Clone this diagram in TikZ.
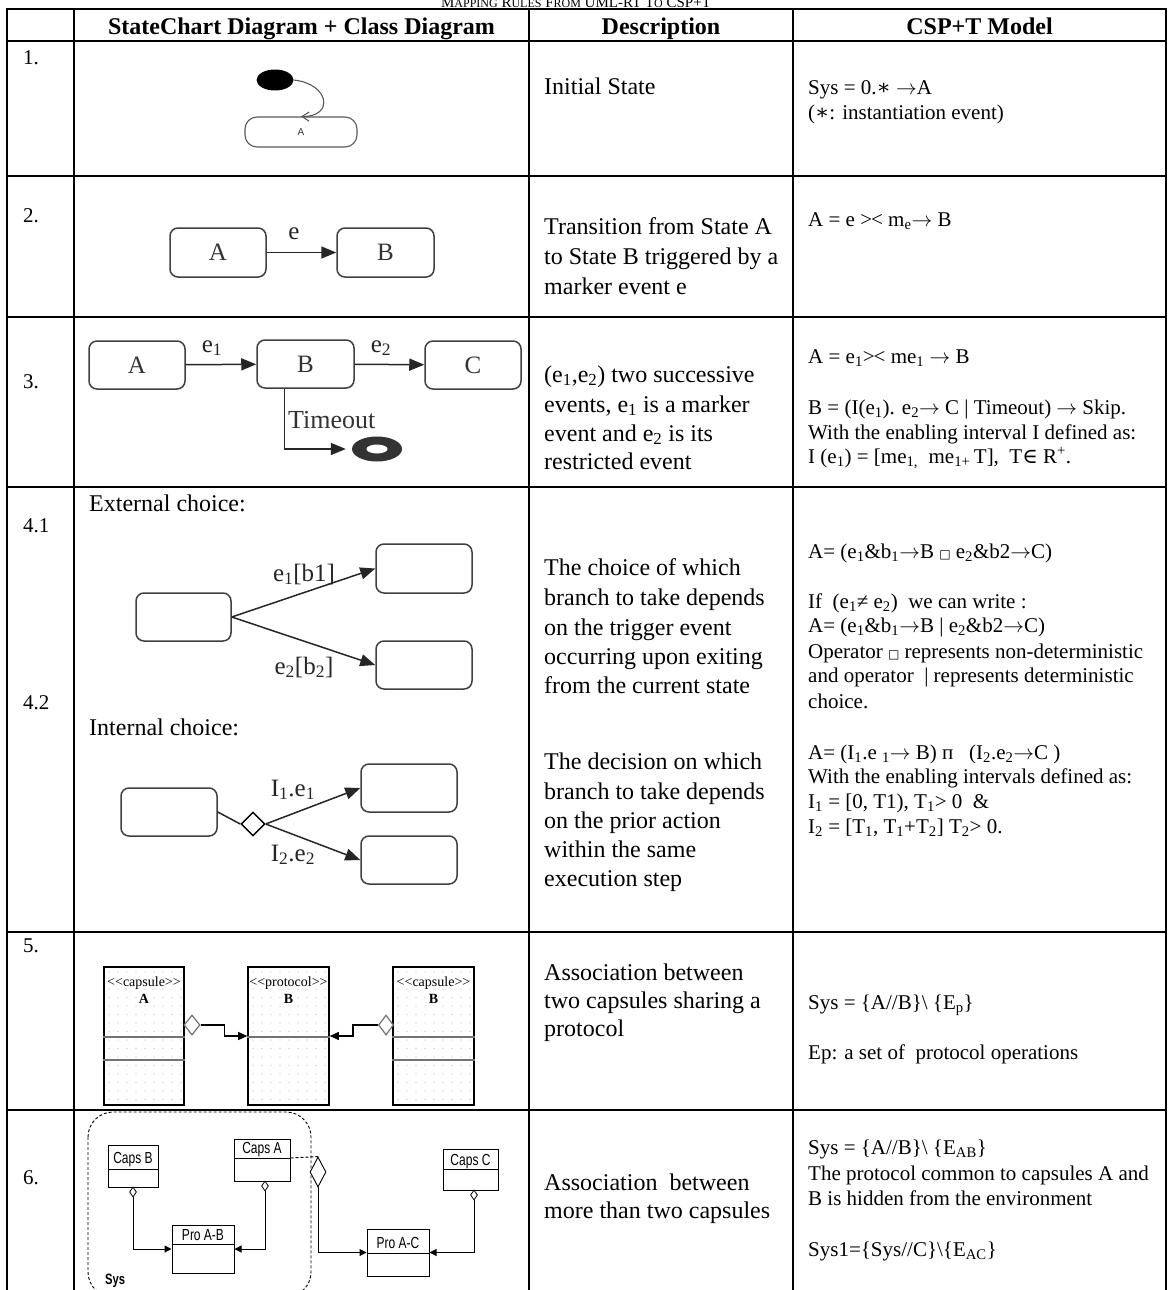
\documentclass[tikz,border=0pt]{standalone}
\usepackage{fontspec}
\setmainfont{Liberation Serif}
\newfontfamily\sansf{Liberation Sans}
\newfontfamily\symf{DejaVu Serif}
\usetikzlibrary{arrows.meta,shapes.geometric}
\newcommand\fs[1]{\fontsize{#1}{#1}\selectfont}
\newcommand\sbs[1]{\textsubscript{#1}}
\newcommand\sps[1]{\textsuperscript{#1}}
\newcommand\bx{{\symf\fontsize{12}{12}\selectfont □}}
\newcommand\gtlt{>\kern-1pt<}
\newcommand\sast{{\symf ∗}}
\newcommand\ra{\ensuremath{\rightarrow}}
\tikzset{
  tbl/.style={line width=2.4pt, line cap=rect},
  rowlbl/.style={anchor=base west, inner sep=0pt, font=\fs{21}},
  desc/.style={anchor=base west, inner sep=0pt, font=\fs{24}},
  csp/.style={anchor=base west, inner sep=0pt, font=\fs{21}},
  hdr/.style={anchor=base, inner sep=0pt, font=\fs{24}\bfseries},
  stbox/.style={draw=black!75, line width=1.5pt, rounded corners=8pt, inner sep=0pt, font=\fs{25}, text=black!80},
  trans/.style={draw=black!85, line width=1.5pt, -{Triangle[length=15pt,width=12pt]}},
  evlbl/.style={anchor=base, inner sep=0pt, font=\fs{25}, text=black!85},
  capsbox/.style={draw=black, line width=1.6pt},
  capsep/.style={draw=black!55, line width=2.2pt},
  capstxt/.style={anchor=base, inner sep=0pt, font=\fs{14}},
  aggr/.style={diamond, draw=black!55, fill=white, line width=1.2pt, inner sep=0pt},
  conn5/.style={draw=black, line width=1.4pt, -{Triangle[length=9pt,width=8pt]}},
  umlbox/.style={draw=black, line width=1pt, inner sep=0pt},
  umltxt/.style={anchor=base, inner sep=0pt, font=\sansf\fs{16}},
  smalldia/.style={diamond, draw=black, fill=white, line width=0.8pt, inner sep=0pt, minimum width=7pt, minimum height=10pt},
  conn6/.style={draw=black, line width=1pt, -{Triangle[length=7pt,width=7pt]}},
}
\newcommand\cond[1]{\scalebox{0.75}[1]{#1}}
\begin{document}
\begin{tikzpicture}[x=1pt,y=-1pt]
\useasboundingbox (0,0) rectangle (1168,1290);
\fill[white] (0,0) rectangle (1168,1290);
% title
\node[anchor=base, inner sep=0pt, font=\fs{15}] (title) at (576,7.5) {M{\fs{12}APPING} R{\fs{12}ULES} F{\fs{12}ROM} UML-RT T{\fs{12}O} CSP+T};
% table grid
\foreach \yy in {9,41,176,317,487,932,1110} \draw[tbl] (7,\yy) -- (1166,\yy);
\foreach \xx in {7,74,529,793,1166} \draw[tbl] (\xx,9) -- (\xx,1295);
% headers
\node[hdr] (h1) at (301.5,35) {StateChart Diagram + Class Diagram};
\node[hdr] (h2) at (661,35) {Description};
\node[hdr] (h3) at (979.5,35) {CSP+T Model};
% row labels
\node[rowlbl] (l1) at (23,64) {1.};
\node[rowlbl] (l2) at (23,222) {2.};
\node[rowlbl] (l3) at (23,388) {3.};
\node[rowlbl] (l41) at (23,532) {4.1};
\node[rowlbl] (l42) at (23,709) {4.2};
\node[rowlbl] (l5) at (23,952) {5.};
\node[rowlbl] (l6) at (23,1184) {6.};

% ---------- row 1 ----------
\node[ellipse, fill=black, minimum width=37pt, minimum height=21pt, inner sep=0pt] (init) at (275,80) {};
\node[draw=black!65, line width=1.1pt, rounded corners=12pt, minimum width=112pt, minimum height=30pt, inner sep=0pt, font=\sansf\fs{10}, text=black!80] (A1) at (301,132) {A};
\draw[black!65, line width=1.1pt, -{Straight Barb[length=7pt,width=9pt]}] (init.east) .. controls (330,84) and (334,117) .. (A1.north);
\node[desc] (d1) at (544,95) {Initial State};
\node[csp] (c1a) at (808,94) {Sys = 0.\sast{} \ra A};
\node[csp] (c1b) at (808,119) {(\sast: instantiation event)};

% ---------- row 2 ----------
\node[stbox, minimum width=96pt, minimum height=49pt] (A2) at (218,252.5) {A};
\node[stbox, minimum width=97pt, minimum height=49pt] (B2) at (385.5,252.5) {B};
\draw[trans] (A2) -- (B2);
\node[evlbl] (e2l) at (294,239) {e};
\node[desc] (d2a) at (544,234) {Transition from State A};
\node[desc] (d2b) at (544,264) {to State B triggered by a};
\node[desc] (d2c) at (544,294) {marker event e};
\node[csp] (c2a) at (808,226) {A = e \gtlt{} m\sbs{e}\ra{} B};

% ---------- row 3 ----------
\node[stbox, minimum width=96pt, minimum height=48pt] (A3) at (137,365) {A};
\node[stbox, minimum width=97pt, minimum height=48pt] (B3) at (305.5,364) {B};
\node[stbox, minimum width=96pt, minimum height=48pt] (C3) at (473,365) {C};
\draw[trans] (A3) -- (B3);
\draw[trans] (B3) -- (C3);
\node[evlbl] (e31) at (212,352) {e\sbs{1}};
\node[evlbl] (e32) at (381,352) {e\sbs{2}};
\node[ellipse, fill=black!80, minimum width=50pt, minimum height=25pt, inner sep=0pt] (fin) at (377,449) {};
\node[ellipse, fill=white, minimum width=21pt, minimum height=9pt, inner sep=0pt] (finin) at (fin.center) {};
\coordinate (tB) at ([xshift=28pt]B3.south west);
\draw[trans, shorten >=6pt] (tB) |- (fin.west);
\node[anchor=base west, inner sep=0pt, font=\fs{26}, text=black!80] (tmo) at (288,428) {Timeout};
\node[desc] (d3a) at (544,382) {(e\sbs{1},e\sbs{2}) two successive};
\node[desc] (d3b) at (544,412) {events, e\sbs{1} is a marker};
\node[desc] (d3c) at (544,441) {event and e\sbs{2} is its};
\node[desc] (d3d) at (544,469) {restricted event};
\node[csp] (c3a) at (808,363) {A = e\sbs{1}\gtlt{} me\sbs{1} \ra{} B};
\node[csp] (c3b) at (808,414) {B = (I(e\sbs{1}). e\sbs{2}\ra{} C | Timeout) \ra{} Skip.};
\node[csp] (c3c) at (808,439) {With the enabling interval I defined as:};
\node[csp] (c3d) at (808,463) {I (e\sbs{1}) = [me\sbs{1,}\ \ me\sbs{1+}\,T],\ \ T{\symf ∈} R\sps{+}.};

% ---------- row 4 ----------
\node[anchor=base west, inner sep=0pt, font=\fs{24}] (ext) at (89,511) {External choice:};
\node[stbox, minimum width=95pt, minimum height=48pt] (sE) at (183.5,617) {};
\node[stbox, minimum width=96pt, minimum height=49pt] (t1E) at (424,568.5) {};
\node[stbox, minimum width=96pt, minimum height=48pt] (t2E) at (424,665) {};
\draw[trans] (sE.east) -- (t1E.west);
\draw[trans] (sE.east) -- (t2E.west);
\node[evlbl] (lE1) at (304,581) {e\sbs{1}[b1]};
\node[evlbl] (lE2) at (304,674) {e\sbs{2}[b\sbs{2}]};
\node[anchor=base west, inner sep=0pt, font=\fs{24}] (int) at (89,735) {Internal choice:};
\node[stbox, minimum width=96pt, minimum height=48pt] (sI) at (169,812) {};
\node[diamond, draw=black, fill=white, line width=1.4pt, minimum width=24pt, minimum height=24pt, inner sep=0pt] (dm) at (253,824) {};
\node[stbox, minimum width=96pt, minimum height=48pt] (t1I) at (409,788) {};
\node[stbox, minimum width=96pt, minimum height=48pt] (t2I) at (409,860) {};
\draw[black!85, line width=1.5pt] (sI.east) -- (dm.west);
\draw[trans] (dm.east) -- (t1I.west);
\draw[trans] (dm.east) -- (t2I.west);
\node[evlbl] (lI1) at (293,796) {I\sbs{1}.e\sbs{1}};
\node[evlbl] (lI2) at (293,861) {I\sbs{2}.e\sbs{2}};
\node[desc] (d4a) at (544,575) {The choice of which};
\node[desc] (d4b) at (544,605) {branch to take depends};
\node[desc] (d4c) at (544,635) {on the trigger event};
\node[desc] (d4d) at (544,664) {occurring upon exiting};
\node[desc] (d4e) at (544,693) {from the current state};
\node[desc] (d4f) at (544,769) {The decision on which};
\node[desc] (d4g) at (544,799) {branch to take depends};
\node[desc] (d4h) at (544,828) {on the prior action};
\node[desc] (d4i) at (544,857) {within the same};
\node[desc] (d4j) at (544,886) {execution step};
\node[csp] (c4a) at (808,558) {A= (e\sbs{1}\&b\sbs{1}\ra B \bx{} e\sbs{2}\&b2\ra C)};
\node[csp] (c4b) at (808,608) {If\ \ (e\sbs{1}≠ e\sbs{2})\ \ we can write :};
\node[csp] (c4c) at (808,632) {A= (e\sbs{1}\&b\sbs{1}\ra B | e\sbs{2}\&b2\ra C)};
\node[csp] (c4d) at (808,658) {Operator \bx{} represents non-deterministic};
\node[csp] (c4e) at (808,682) {and operator\ \ | represents deterministic};
\node[csp] (c4f) at (808,708) {choice.};
\node[csp] (c4g) at (808,759) {A= (I\sbs{1}.e \sbs{1}\ra{} B) п\ \ \ (I\sbs{2}.e\sbs{2}\ra C )};
\node[csp] (c4h) at (808,783) {With the enabling intervals defined as:};
\node[csp] (c4i) at (808,808) {I\sbs{1} = [0, T1), T\sbs{1}> 0\ \ \&};
\node[csp] (c4j) at (808,833) {I\sbs{2} = [T\sbs{1}, T\sbs{1}+T\sbs{2}] T\sbs{2}> 0.};

% ---------- row 5 ----------
\foreach \xb in {104,248,393}{
  \foreach \i in {0,...,8}{
    \foreach \j in {0,...,15}{
      \fill[black!25] (\xb+5+9*\i,972+8.5*\j) circle[radius=0.6pt];
    }
  }
}
\node[capsbox, minimum width=80pt, minimum height=138pt, inner sep=0pt] (A5) at (144,1036) {};
\node[capsbox, minimum width=81pt, minimum height=138pt, inner sep=0pt] (P5) at (288.5,1036) {};
\node[capsbox, minimum width=81pt, minimum height=138pt, inner sep=0pt] (B5) at (433.5,1036) {};
\draw[capsep] (A5.west |- 0,1037) -- (A5.east |- 0,1037);
\draw[capsep] (A5.west |- 0,1060) -- (A5.east |- 0,1060);
\draw[capsep] (P5.west |- 0,1037) -- (P5.east |- 0,1037);
\draw[capsep] (B5.west |- 0,1037) -- (B5.east |- 0,1037);
\draw[capsep] (B5.west |- 0,1060) -- (B5.east |- 0,1060);
\node[capstxt] (sA5) at (144,986) {<{}<capsule>{}>};
\node[capstxt, font=\fs{14}\bfseries] (nA5) at (144,1003) {A};
\node[capstxt] (sP5) at (288.5,986) {<{}<protocol>{}>};
\node[capstxt, font=\fs{14}\bfseries] (nP5) at (288.5,1003) {B};
\node[capstxt] (sB5) at (433.5,986) {<{}<capsule>{}>};
\node[capstxt, font=\fs{14}\bfseries] (nB5) at (433.5,1003) {B};
\node[aggr, minimum width=16pt, minimum height=20pt] (dA5) at (192,1025) {};
\node[aggr, minimum width=15pt, minimum height=20pt] (dB5) at (386,1025) {};
\draw[conn5] (dA5.east) -- ++(24,0) |- (P5.west);
\draw[conn5] (dB5.west) -- ++(-25,0) |- (P5.east);
\node[desc] (d5a) at (544,980) {Association between};
\node[desc] (d5b) at (544,1008) {two capsules sharing a};
\node[desc] (d5c) at (544,1036) {protocol};
\node[csp] (c5a) at (808,1009) {Sys = \{A//B\}\textbackslash\ \{E\sbs{p}\}};
\node[csp] (c5b) at (808,1059) {Ep: a set of\ \ protocol operations};

% ---------- row 6 ----------
\draw[dashed, dash pattern=on 3pt off 2pt, rounded corners=25pt, line width=0.9pt] (88,1112) rectangle (311,1297);
\node[anchor=base west, inner sep=0pt, font=\sansf\fs{15}\bfseries] (sys) at (105,1284) {\cond{Sys}};
\node[umlbox, minimum width=50pt, minimum height=42pt] (cB6) at (133,1166) {};
\draw[black, line width=1pt] (cB6.west |- 0,1169) -- (cB6.east |- 0,1169);
\node[umltxt] (tB6) at (133,1163) {\cond{Caps B}};
\node[umlbox, minimum width=56pt, minimum height=42pt] (cA6) at (262,1160) {};
\draw[black, line width=1pt] (cA6.west |- 0,1158) -- (cA6.east |- 0,1158);
\node[umltxt] (tA6) at (262,1153) {\cond{Caps A}};
\node[umlbox, minimum width=55pt, minimum height=41pt] (cC6) at (470.5,1169.5) {};
\draw[black, line width=1pt] (cC6.west |- 0,1169) -- (cC6.east |- 0,1169);
\node[umltxt] (tC6) at (470.5,1165) {\cond{Caps C}};
\node[umlbox, minimum width=62pt, minimum height=48pt] (pAB) at (203,1249) {};
\draw[black, line width=1pt] (pAB.west |- 0,1244) -- (pAB.east |- 0,1244);
\node[umltxt] (tpAB) at (203,1240) {\cond{Pro A-B}};
\node[umlbox, minimum width=62pt, minimum height=47pt] (pAC) at (398,1252.5) {};
\draw[black, line width=1pt] (pAC.west |- 0,1253) -- (pAC.east |- 0,1253);
\node[umltxt] (tpAC) at (398,1248) {\cond{Pro A-C}};
\node[smalldia] (dB6) at (133,1192) {};
\node[smalldia] (dA6) at (265,1186) {};
\node[smalldia] (dC6) at (474,1195) {};
\draw[conn6] (dB6.south) |- (pAB.west);
\draw[conn6] (dA6.south) |- (pAB.east);
\draw[conn6] (dC6.south) |- (pAC.east);
\node[diamond, draw=black, fill=white, line width=0.9pt, inner sep=0pt, minimum width=16pt, minimum height=30pt] (dBig) at (318,1172) {};
\coordinate (cAsep) at (cA6.east |- 0,1158);
\draw[dashed, dash pattern=on 3pt off 2pt, line width=0.9pt] (cAsep) -- (dBig.north);
\draw[conn6] (dBig.south) |- (pAC.west);
\node[desc] (d6a) at (544,1190) {Association\ \ between};
\node[desc] (d6b) at (544,1218) {more than two capsules};
\node[csp] (c6a) at (808,1154) {Sys = \{A//B\}\textbackslash\ \{E\sbs{AB}\}};
\node[csp] (c6b) at (808,1180) {The protocol common to capsules A and};
\node[csp] (c6c) at (808,1205) {B is hidden from the environment};
\node[csp] (c6d) at (808,1256) {Sys1=\{Sys//C\}\textbackslash\{E\sbs{AC}\}};
\end{tikzpicture}
\end{document}
